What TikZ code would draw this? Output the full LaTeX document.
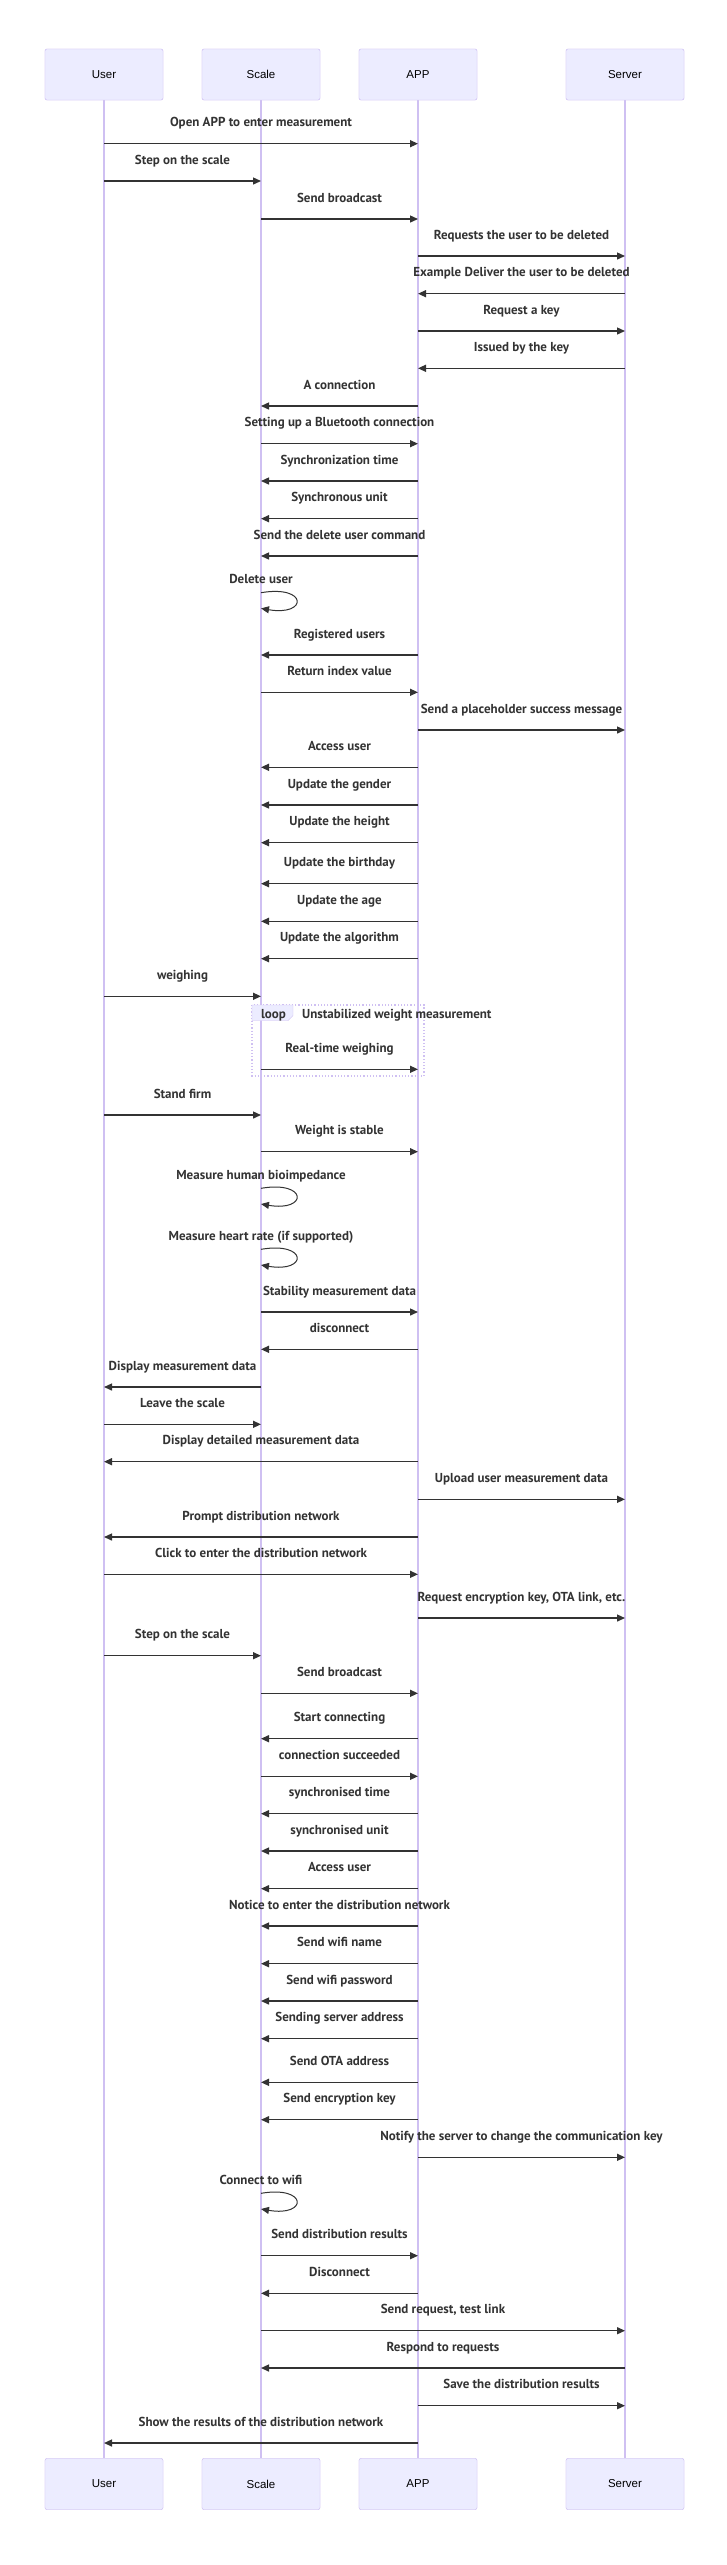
\documentclass[tikz,border=0pt]{standalone}
\usepackage{fontspec}
\setmainfont{PT Sans}
\newfontfamily\actorfont{Liberation Sans}
\usetikzlibrary{arrows.meta}

\definecolor{actorfill}{HTML}{ECECFF}
\definecolor{actorline}{HTML}{CFC0F2}
\definecolor{msgcol}{HTML}{333333}

\begin{document}
\begin{tikzpicture}[
    x=1pt, y=-1pt,
    >={Triangle[length=8pt, width=7pt]}, % Set default arrow tip style
    actor/.style={draw=actorline, fill=actorfill, rounded corners=2pt, minimum width=118pt,
        minimum height=51pt, font=\actorfont\fontsize{11.5}{14}\selectfont, text=black},
    lifeline/.style={actorline, line width=1.2pt},
    msg/.style={->, msgcol, line width=1.4pt},
    txt/.style={anchor=base, inner sep=0pt, text=msgcol, font=\bfseries\fontsize{13}{15}\selectfont},
    msgtxt/.style={txt, yshift=17pt},
    selftxt/.style={txt, yshift=9pt}
]
\useasboundingbox (0,0) rectangle (727,2565);

% Actors (top and bottom)
\foreach \name/\x in {User/104, Scale/261, APP/418, Server/625} {
    \node[actor] (\name-top) at (\x,74.5) {\name};
    \node[actor] (\name-bot) at (\x,2484) {\name};
}

% Lifelines
\foreach \name in {User, Scale, APP, Server}
    \draw[lifeline] (\name-top.south) -- (\name-bot.north);
\foreach \name in {User, Scale, APP, Server} {
    \node[actor] at (\name-top) {\name};
    \node[actor] at (\name-bot) {\name};
}

% Loop frame
\draw[actorline, line width=1.2pt, dotted] (252,1005) rectangle (424,1076);
\draw[actorline, fill=actorfill] (252,1005) -- (293,1005) -- (293,1015.5) -- (288,1020.7) -- (252,1020.7) -- cycle;
\node[txt] (looplabel) at (273.5,1018) {loop};
\node[txt, anchor=base west] (looptitle) at (302,1018) {Unstabilized weight measurement};

% Messages: from/to/y/text
\foreach \f/\t/\y/\txt in {
    User/APP/143.7/{Open APP to enter measurement},
    User/Scale/181/{Step on the scale},
    Scale/APP/219/{Send broadcast},
    APP/Server/256/{Requests the user to be deleted},
    Server/APP/293.7/{Example Deliver the user to be deleted},
    APP/Server/331/{Request a key},
    Server/APP/368.3/{Issued by the key},
    APP/Scale/406/{A connection},
    Scale/APP/443.7/{Setting up a Bluetooth connection},
    APP/Scale/481/{Synchronization time},
    APP/Scale/518.7/{Synchronous unit},
    APP/Scale/556/{Send the delete user command},
    APP/Scale/655/{Registered users},
    Scale/APP/692.3/{Return index value},
    APP/Server/730/{Send a placeholder success message},
    APP/Scale/767.3/{Access user},
    APP/Scale/805/{Update the gender},
    APP/Scale/842.7/{Update the height},
    APP/Scale/883.7/{Update the birthday},
    APP/Scale/921.3/{Update the age},
    APP/Scale/958.7/{Update the algorithm},
    User/Scale/996.3/{weighing},
    Scale/APP/1069.3/{Real-time weighing},
    User/Scale/1115/{Stand firm},
    Scale/APP/1151.7/{Weight is stable},
    Scale/APP/1312/{Stability measurement data},
    APP/Scale/1349.3/{disconnect},
    Scale/User/1387/{Display measurement data},
    User/Scale/1424.3/{Leave the scale},
    APP/User/1461.7/{Display detailed measurement data},
    APP/Server/1499.3/{Upload user measurement data},
    APP/User/1537/{Prompt distribution network},
    User/APP/1574.3/{Click to enter the distribution network},
    APP/Server/1618/{Request encryption key, OTA link, etc.},
    User/Scale/1655.7/{Step on the scale},
    Scale/APP/1693.3/{Send broadcast},
    APP/Scale/1738.7/{Start connecting},
    Scale/APP/1776.3/{connection succeeded},
    APP/Scale/1813.7/{synchronised time},
    APP/Scale/1851/{synchronised unit},
    APP/Scale/1888.7/{Access user},
    APP/Scale/1926/{Notice to enter the distribution network},
    APP/Scale/1963.7/{Send wifi name},
    APP/Scale/2001/{Send wifi password},
    APP/Scale/2038.7/{Sending server address},
    APP/Scale/2082.3/{Send OTA address},
    APP/Scale/2119.7/{Send encryption key},
    APP/Server/2157.3/{Notify the server to change the communication key},
    Scale/APP/2255.7/{Send distribution results},
    APP/Scale/2293.3/{Disconnect},
    Scale/Server/2330.7/{Send request, test link},
    Server/Scale/2368/{Respond to requests},
    APP/Server/2405.7/{Save the distribution results},
    APP/User/2443/{Show the results of the distribution network}
} {
    \draw[msg] (\f-top |- 0,\y) -- node[msgtxt] {\txt} (\t-top |- 0,\y);
}

% Self messages on the scale
\foreach \y/\txt in {592.7/{Delete user}, 1188.3/{Measure human bioimpedance},
    1249.3/{Measure heart rate (if supported)}, 2193.3/{Connect to wifi}} {
    \node[selftxt] at (Scale-top |- 0,\y) {\txt};
    \draw[msg, line width=1pt] (Scale-top |- 0,\y) .. controls +(47,-8) and +(47,8) .. ++(0,15.7);
}

\end{tikzpicture}
\end{document}
